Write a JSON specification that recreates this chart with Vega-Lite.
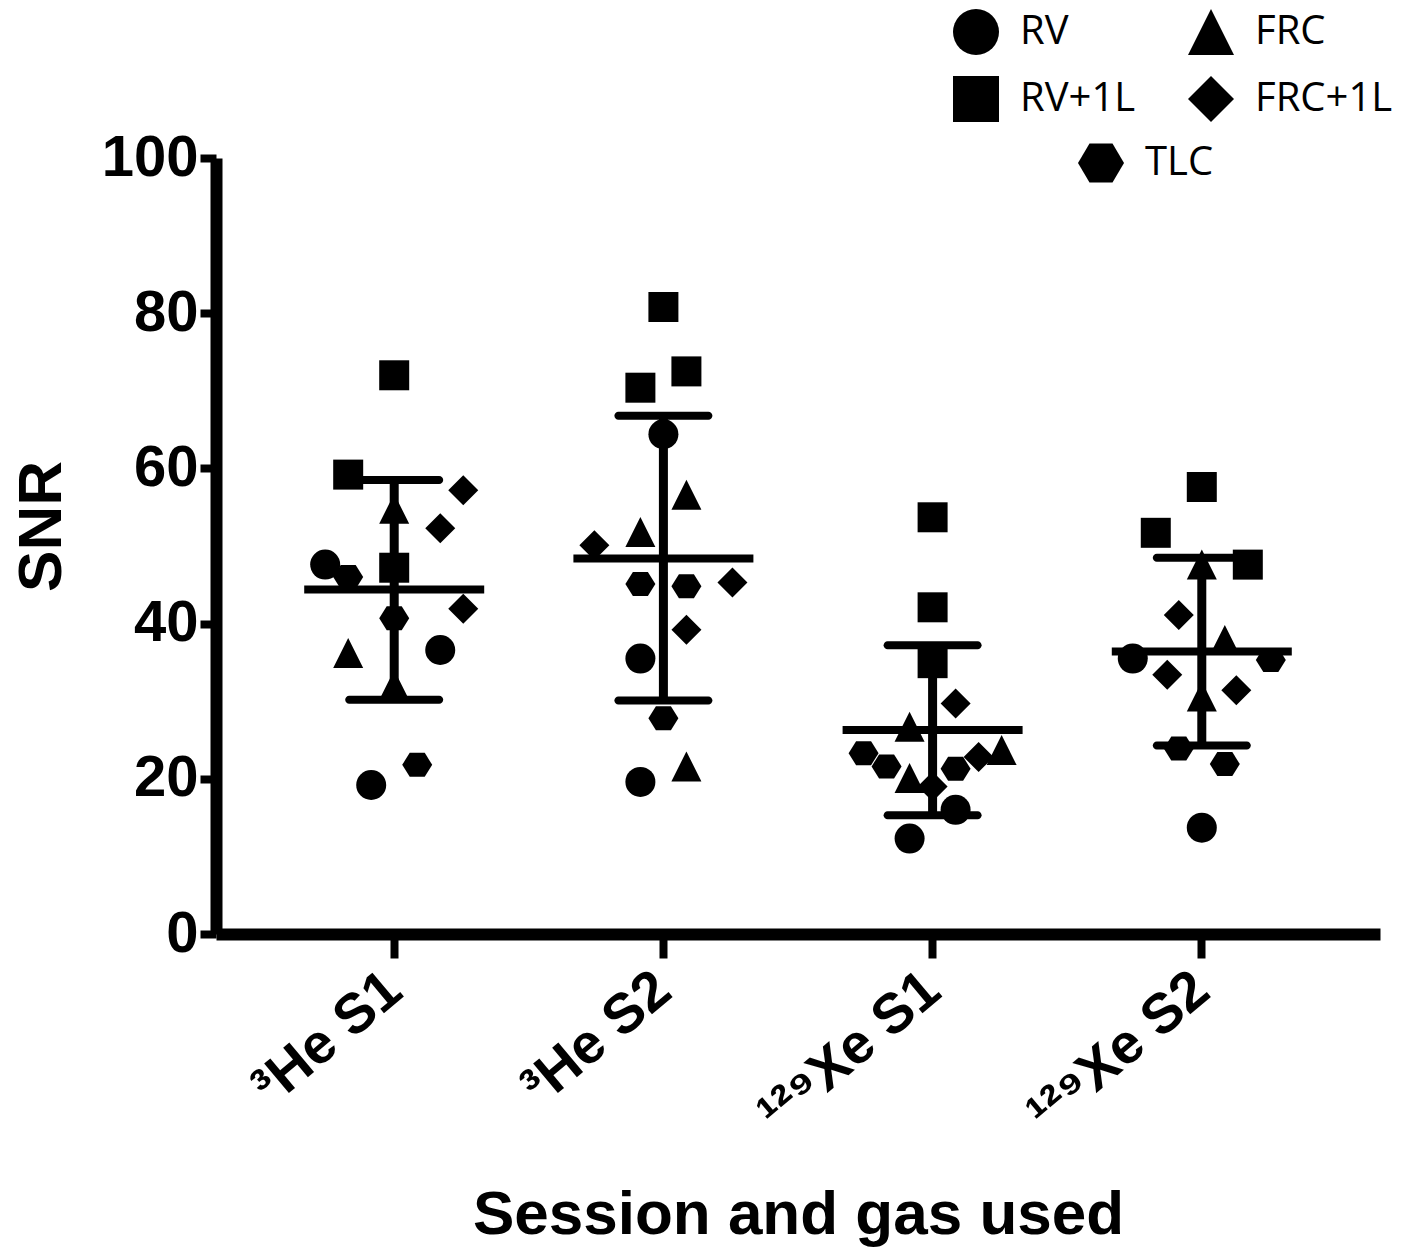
{
  "$schema": "https://vega.github.io/schema/vega-lite/v6.json",
  "width": 1164,
  "height": 776,
  "autosize": {"type": "none"},
  "padding": {"left": 216, "top": 158, "right": 23, "bottom": 317},
  "background": "white",
  "config": {
    "view": {"stroke": null},
    "axis": {"grid": false, "domainColor": "black", "tickColor": "black", "labelColor": "black", "titleColor": "black", "labelFont": "Liberation Sans", "titleFont": "Liberation Sans", "labelFontWeight": "bold", "titleFontWeight": "bold", "domainCap": "butt"}
  },
  "datasets": {
    "pts": [
      {"group": "\u00b3He S1", "volume": "RV+1L", "snr": 72.0, "col": 0},
      {"group": "\u00b3He S1", "volume": "RV+1L", "snr": 59.2, "col": -2},
      {"group": "\u00b3He S1", "volume": "FRC", "snr": 54.8, "col": 0},
      {"group": "\u00b3He S1", "volume": "FRC+1L", "snr": 57.2, "col": 3},
      {"group": "\u00b3He S1", "volume": "FRC+1L", "snr": 52.3, "col": 2},
      {"group": "\u00b3He S1", "volume": "RV", "snr": 47.6, "col": -3},
      {"group": "\u00b3He S1", "volume": "TLC", "snr": 46.0, "col": -2},
      {"group": "\u00b3He S1", "volume": "RV+1L", "snr": 47.2, "col": 0},
      {"group": "\u00b3He S1", "volume": "FRC+1L", "snr": 41.9, "col": 3},
      {"group": "\u00b3He S1", "volume": "TLC", "snr": 40.7, "col": 0},
      {"group": "\u00b3He S1", "volume": "FRC", "snr": 36.2, "col": -2},
      {"group": "\u00b3He S1", "volume": "RV", "snr": 36.6, "col": 2},
      {"group": "\u00b3He S1", "volume": "FRC", "snr": 32.1, "col": 0},
      {"group": "\u00b3He S1", "volume": "TLC", "snr": 21.8, "col": 1},
      {"group": "\u00b3He S1", "volume": "RV", "snr": 19.2, "col": -1},
      {"group": "\u00b3He S2", "volume": "RV+1L", "snr": 80.8, "col": 0},
      {"group": "\u00b3He S2", "volume": "RV+1L", "snr": 72.5, "col": 1},
      {"group": "\u00b3He S2", "volume": "RV+1L", "snr": 70.4, "col": -1},
      {"group": "\u00b3He S2", "volume": "RV", "snr": 64.4, "col": 0},
      {"group": "\u00b3He S2", "volume": "FRC", "snr": 56.6, "col": 1},
      {"group": "\u00b3He S2", "volume": "FRC", "snr": 51.8, "col": -1},
      {"group": "\u00b3He S2", "volume": "FRC+1L", "snr": 50.1, "col": -3},
      {"group": "\u00b3He S2", "volume": "TLC", "snr": 45.1, "col": -1},
      {"group": "\u00b3He S2", "volume": "TLC", "snr": 44.8, "col": 1},
      {"group": "\u00b3He S2", "volume": "FRC+1L", "snr": 45.3, "col": 3},
      {"group": "\u00b3He S2", "volume": "FRC+1L", "snr": 39.2, "col": 1},
      {"group": "\u00b3He S2", "volume": "RV", "snr": 35.5, "col": -1},
      {"group": "\u00b3He S2", "volume": "TLC", "snr": 27.8, "col": 0},
      {"group": "\u00b3He S2", "volume": "FRC", "snr": 21.6, "col": 1},
      {"group": "\u00b3He S2", "volume": "RV", "snr": 19.6, "col": -1},
      {"group": "\u00b9\u00b2\u2079Xe S1", "volume": "RV+1L", "snr": 53.7, "col": 0},
      {"group": "\u00b9\u00b2\u2079Xe S1", "volume": "RV+1L", "snr": 42.1, "col": 0},
      {"group": "\u00b9\u00b2\u2079Xe S1", "volume": "RV+1L", "snr": 34.9, "col": 0},
      {"group": "\u00b9\u00b2\u2079Xe S1", "volume": "FRC+1L", "snr": 29.7, "col": 1},
      {"group": "\u00b9\u00b2\u2079Xe S1", "volume": "FRC", "snr": 26.7, "col": -1},
      {"group": "\u00b9\u00b2\u2079Xe S1", "volume": "TLC", "snr": 23.3, "col": -3},
      {"group": "\u00b9\u00b2\u2079Xe S1", "volume": "FRC", "snr": 23.7, "col": 3},
      {"group": "\u00b9\u00b2\u2079Xe S1", "volume": "FRC+1L", "snr": 22.8, "col": 2},
      {"group": "\u00b9\u00b2\u2079Xe S1", "volume": "TLC", "snr": 21.6, "col": -2},
      {"group": "\u00b9\u00b2\u2079Xe S1", "volume": "TLC", "snr": 21.3, "col": 1},
      {"group": "\u00b9\u00b2\u2079Xe S1", "volume": "FRC", "snr": 20.1, "col": -1},
      {"group": "\u00b9\u00b2\u2079Xe S1", "volume": "FRC+1L", "snr": 19.0, "col": 0},
      {"group": "\u00b9\u00b2\u2079Xe S1", "volume": "RV", "snr": 16.0, "col": 1},
      {"group": "\u00b9\u00b2\u2079Xe S1", "volume": "RV", "snr": 12.3, "col": -1},
      {"group": "\u00b9\u00b2\u2079Xe S2", "volume": "RV+1L", "snr": 57.6, "col": 0},
      {"group": "\u00b9\u00b2\u2079Xe S2", "volume": "RV+1L", "snr": 51.7, "col": -2},
      {"group": "\u00b9\u00b2\u2079Xe S2", "volume": "FRC", "snr": 47.6, "col": 0},
      {"group": "\u00b9\u00b2\u2079Xe S2", "volume": "RV+1L", "snr": 47.6, "col": 2},
      {"group": "\u00b9\u00b2\u2079Xe S2", "volume": "FRC+1L", "snr": 41.1, "col": -1},
      {"group": "\u00b9\u00b2\u2079Xe S2", "volume": "FRC", "snr": 37.9, "col": 1},
      {"group": "\u00b9\u00b2\u2079Xe S2", "volume": "RV", "snr": 35.5, "col": -3},
      {"group": "\u00b9\u00b2\u2079Xe S2", "volume": "TLC", "snr": 35.3, "col": 3},
      {"group": "\u00b9\u00b2\u2079Xe S2", "volume": "FRC+1L", "snr": 33.4, "col": -1.5},
      {"group": "\u00b9\u00b2\u2079Xe S2", "volume": "FRC+1L", "snr": 31.4, "col": 1.5},
      {"group": "\u00b9\u00b2\u2079Xe S2", "volume": "FRC", "snr": 30.6, "col": 0},
      {"group": "\u00b9\u00b2\u2079Xe S2", "volume": "TLC", "snr": 23.9, "col": -1},
      {"group": "\u00b9\u00b2\u2079Xe S2", "volume": "TLC", "snr": 21.9, "col": 1},
      {"group": "\u00b9\u00b2\u2079Xe S2", "volume": "RV", "snr": 13.7, "col": 0}
    ],
    "summ": [
      {"group": "\u00b3He S1", "mean": 44.4, "lo": 30.2, "hi": 58.5},
      {"group": "\u00b3He S2", "mean": 48.4, "lo": 30.1, "hi": 66.8},
      {"group": "\u00b9\u00b2\u2079Xe S1", "mean": 26.3, "lo": 15.3, "hi": 37.2},
      {"group": "\u00b9\u00b2\u2079Xe S2", "mean": 36.4, "lo": 24.3, "hi": 48.5}
    ]
  },
  "layer": [
    {
      "data": {"name": "pts"},
      "transform": [{"filter": "datum.volume !== 'TLC'"}],
      "mark": {"type": "point", "filled": true, "size": 900, "color": "black", "opacity": 1, "strokeWidth": 0},
      "encoding": {
        "x": {"field": "group", "type": "nominal", "sort": ["\u00b3He S1", "\u00b3He S2", "\u00b9\u00b2\u2079Xe S1", "\u00b9\u00b2\u2079Xe S2"],
          "scale": {"paddingInner": 0, "paddingOuter": 0.162},
          "axis": {"title": "Session and gas used", "labelAngle": -40, "labelAlign": "right", "labelBaseline": "middle", "labelFontSize": 56, "labelPadding": 24, "tickSize": 24, "tickWidth": 8, "domainWidth": 12, "titleFontSize": 62, "titleY": 299, "titleBaseline": "alphabetic", "labelLimit": 400}},
        "xOffset": {"field": "col", "type": "quantitative", "scale": {"domain": [-5.85, 5.85], "nice": false, "zero": false}},
        "y": {"field": "snr", "type": "quantitative", "title": "SNR",
          "scale": {"domain": [0, 100], "nice": false},
          "axis": {"values": [0, 20, 40, 60, 80, 100], "labelFontSize": 58, "labelPadding": 2, "tickSize": 16, "tickWidth": 8, "domainWidth": 12, "titleFontSize": 62, "titleX": -156, "titleY": 368, "titleAlign": "center", "titleBaseline": "alphabetic", "titleAngle": -90}},
        "shape": {"field": "volume", "type": "nominal",
          "scale": {"domain": ["RV", "RV+1L", "FRC", "FRC+1L"], "range": ["circle", "square", "M0,-1L1,1L-1,1Z", "diamond"]},
          "legend": {"orient": "none", "legendX": 737, "legendY": -149, "columns": 2, "title": null, "symbolSize": 2116, "symbolFillColor": "black", "symbolStrokeWidth": 0, "labelFont": "Open Sans", "labelFontSize": 40, "labelColor": "black", "labelOffset": 21, "rowPadding": 21, "columnPadding": 52, "padding": 0}}
      }
    },
    {
      "data": {"name": "pts"},
      "transform": [{"filter": "datum.volume === 'TLC'"}],
      "mark": {"type": "point", "filled": true, "size": 900, "opacity": 1, "strokeWidth": 0, "shape": "M-1,0L-0.5,-0.8L0.5,-0.8L1,0L0.5,0.8L-0.5,0.8Z"},
      "encoding": {
        "x": {"field": "group", "type": "nominal", "sort": ["\u00b3He S1", "\u00b3He S2", "\u00b9\u00b2\u2079Xe S1", "\u00b9\u00b2\u2079Xe S2"]},
        "xOffset": {"field": "col", "type": "quantitative"},
        "y": {"field": "snr", "type": "quantitative", "title": "SNR"},
        "fill": {"field": "volume", "type": "nominal", "scale": {"range": ["black"]},
          "legend": {"orient": "none", "legendX": 862, "legendY": -18, "title": null, "symbolType": "M-1,0L-0.5,-0.85L0.5,-0.85L1,0L0.5,0.85L-0.5,0.85Z", "symbolSize": 2116, "symbolStrokeWidth": 0, "labelFont": "Open Sans", "labelFontSize": 40, "labelColor": "black", "labelOffset": 21, "padding": 0}}
      }
    },
    {
      "data": {"name": "summ"},
      "mark": {"type": "rule", "color": "black", "strokeWidth": 9},
      "encoding": {
        "x": {"field": "group", "type": "nominal", "sort": ["\u00b3He S1", "\u00b3He S2", "\u00b9\u00b2\u2079Xe S1", "\u00b9\u00b2\u2079Xe S2"]},
        "y": {"field": "lo", "type": "quantitative", "title": "SNR"},
        "y2": {"field": "hi"}
      }
    },
    {
      "data": {"name": "summ"},
      "mark": {"type": "tick", "color": "black", "size": 180, "thickness": 8, "opacity": 1},
      "encoding": {
        "x": {"field": "group", "type": "nominal", "sort": ["\u00b3He S1", "\u00b3He S2", "\u00b9\u00b2\u2079Xe S1", "\u00b9\u00b2\u2079Xe S2"]},
        "y": {"field": "mean", "type": "quantitative", "title": "SNR"}
      }
    },
    {
      "data": {"name": "summ"},
      "mark": {"type": "tick", "color": "black", "size": 98, "thickness": 8, "opacity": 1, "cornerRadius": 4},
      "encoding": {
        "x": {"field": "group", "type": "nominal", "sort": ["\u00b3He S1", "\u00b3He S2", "\u00b9\u00b2\u2079Xe S1", "\u00b9\u00b2\u2079Xe S2"]},
        "y": {"field": "lo", "type": "quantitative", "title": "SNR"}
      }
    },
    {
      "data": {"name": "summ"},
      "mark": {"type": "tick", "color": "black", "size": 98, "thickness": 8, "opacity": 1, "cornerRadius": 4},
      "encoding": {
        "x": {"field": "group", "type": "nominal", "sort": ["\u00b3He S1", "\u00b3He S2", "\u00b9\u00b2\u2079Xe S1", "\u00b9\u00b2\u2079Xe S2"]},
        "y": {"field": "hi", "type": "quantitative", "title": "SNR"}
      }
    }
  ]
}
